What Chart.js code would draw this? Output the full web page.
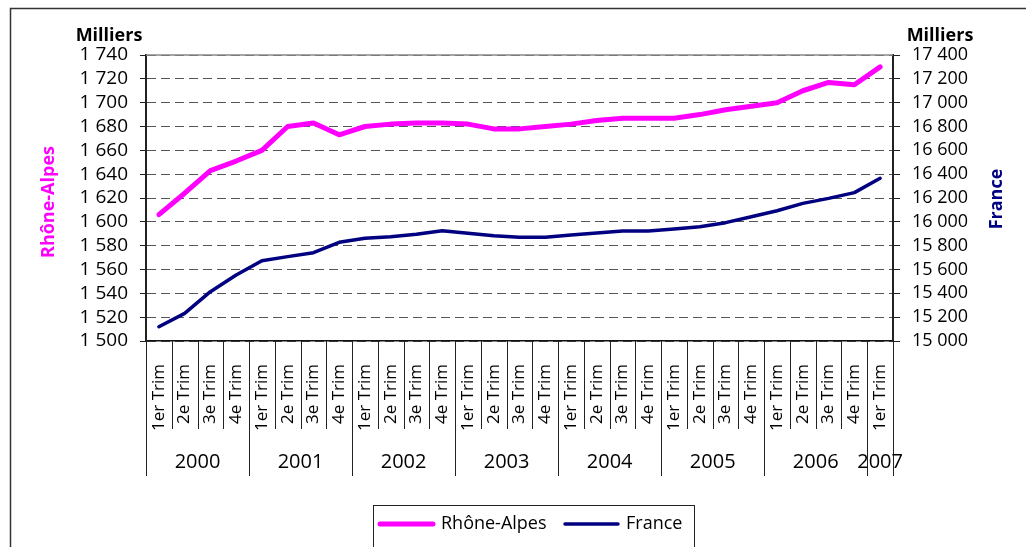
<!DOCTYPE html>
<html>
<head>
<meta charset="utf-8">
<script src="https://cdn.jsdelivr.net/npm/chart.js@4.4.1/dist/chart.umd.min.js"></script>
<style>
  html, body { margin: 0; padding: 0; background: #fff; }
</style>
</head>
<body>
<canvas id="chart" width="1026" height="547"></canvas>
<script>
// categories
const quarterLabels = [
  '1er Trim', '2e Trim', '3e Trim', '4e Trim',
  '1er Trim', '2e Trim', '3e Trim', '4e Trim',
  '1er Trim', '2e Trim', '3e Trim', '4e Trim',
  '1er Trim', '2e Trim', '3e Trim', '4e Trim',
  '1er Trim', '2e Trim', '3e Trim', '4e Trim',
  '1er Trim', '2e Trim', '3e Trim', '4e Trim',
  '1er Trim', '2e Trim', '3e Trim', '4e Trim',
  '1er Trim'
];
const yearLabels = ['2000', '2001', '2002', '2003', '2004', '2005', '2006', '2007'];
const quartersPerYear = [4, 4, 4, 4, 4, 4, 4, 1];

// series (milliers)
const rhoneAlpes = [
  1606, 1624, 1643, 1651, 1660, 1680, 1683, 1673,
  1680, 1682, 1683, 1683, 1682, 1678, 1678, 1680,
  1682, 1685, 1687, 1687, 1687, 1690, 1694, 1697,
  1700, 1710, 1717, 1715, 1730
];
const france = [
  15120, 15232, 15414, 15554, 15674, 15708, 15741, 15828,
  15862, 15875, 15895, 15925, 15904, 15884, 15870, 15870,
  15890, 15906, 15923, 15923, 15940, 15959, 15993, 16043,
  16093, 16155, 16197, 16245, 16365
];

// axes
const leftMin = 1500, leftMax = 1740, leftStep = 20;
const rightMin = 15000, rightMax = 17400, rightStep = 200;

const FONT = "'Open Sans', 'DejaVu Sans', sans-serif";
const PINK = '#FF00FF';
const NAVY = '#000080';

function spaced(v) {
  return String(v).replace(/\B(?=(\d{3})+(?!\d))/g, ' ');
}

const decor = {
  id: 'decor',
  beforeDraw(chart) {
    const ctx = chart.ctx;
    ctx.save();
    ctx.fillStyle = '#fff';
    ctx.fillRect(0, 0, chart.width, chart.height);
    ctx.restore();
  },
  afterDraw(chart) {
    const { ctx, chartArea: a, scales } = chart;
    const x = scales.x;
    ctx.save();

    // outer frame
    ctx.strokeStyle = '#333';
    ctx.lineWidth = 1.5;
    ctx.strokeRect(10.5, 8.5, 1040, 600);

    // top border of the plot
    ctx.strokeStyle = '#888';
    ctx.lineWidth = 1.5;
    ctx.beginPath();
    ctx.moveTo(a.left, a.top);
    ctx.lineTo(a.right, a.top);
    ctx.stroke();

    // category separators under the axis
    const n = quarterLabels.length;
    const bound = i => {
      if (i === 0) return a.left;
      if (i === n) return a.right;
      return (x.getPixelForValue(i - 1) + x.getPixelForValue(i)) / 2;
    };
    const yearStarts = [];
    let k = 0;
    quartersPerYear.forEach(q => { yearStarts.push(k); k += q; });
    yearStarts.push(n);

    ctx.strokeStyle = '#222';
    ctx.lineWidth = 1;
    for (let i = 0; i <= n; i++) {
      const bx = Math.round(bound(i)) + 0.5;
      const isYear = yearStarts.includes(i);
      ctx.beginPath();
      ctx.moveTo(bx, a.bottom);
      ctx.lineTo(bx, isYear ? 476 : 429);
      ctx.stroke();
    }

    // year labels
    ctx.fillStyle = '#000';
    ctx.font = '20px ' + FONT;
    ctx.textAlign = 'center';
    ctx.textBaseline = 'middle';
    yearLabels.forEach((yl, j) => {
      const cx = (bound(yearStarts[j]) + bound(yearStarts[j + 1])) / 2;
      ctx.fillText(yl, cx, 462);
    });

    // units
    ctx.font = 'bold 18px ' + FONT;
    ctx.fillText('Milliers', 109, 36);
    ctx.fillText('Milliers', 940, 36);

    // axis titles
    ctx.font = 'bold 18px ' + FONT;
    ctx.save();
    ctx.translate(49, 202);
    ctx.rotate(-Math.PI / 2);
    ctx.fillStyle = PINK;
    ctx.fillText('Rhône-Alpes', 0, 0);
    ctx.restore();
    ctx.save();
    ctx.translate(997, 199);
    ctx.rotate(-Math.PI / 2);
    ctx.fillStyle = NAVY;
    ctx.fillText('France', 0, 0);
    ctx.restore();

    // legend
    ctx.strokeStyle = '#222';
    ctx.lineWidth = 1;
    ctx.strokeRect(373.5, 505.5, 321, 60);
    ctx.lineCap = 'round';
    ctx.font = '18px ' + FONT;
    ctx.textAlign = 'left';
    ctx.fillStyle = '#000';
    const legendPos = [378, 563];
    chart.data.datasets.forEach((ds, i) => {
      const lx = legendPos[i];
      ctx.strokeStyle = ds.borderColor;
      ctx.lineWidth = ds.borderWidth;
      ctx.beginPath();
      ctx.moveTo(lx + 2, 524);
      ctx.lineTo(lx + 55, 524);
      ctx.stroke();
      ctx.fillText(ds.label, lx + 63, 524);
    });

    ctx.restore();
  }
};

new Chart(document.getElementById('chart'), {
  type: 'line',
  data: {
    labels: quarterLabels,
    datasets: [
      {
        label: 'Rhône-Alpes',
        data: rhoneAlpes,
        yAxisID: 'y',
        borderColor: PINK,
        borderWidth: 5,
        borderCapStyle: 'round',
        borderJoinStyle: 'round',
        pointRadius: 0,
        tension: 0
      },
      {
        label: 'France',
        data: france,
        yAxisID: 'y2',
        borderColor: NAVY,
        borderWidth: 3.5,
        borderCapStyle: 'round',
        borderJoinStyle: 'round',
        pointRadius: 0,
        tension: 0
      }
    ]
  },
  options: {
    responsive: false,
    animation: false,
    events: [],
    layout: { padding: { top: 55, left: 0, right: 0, bottom: 0 } },
    plugins: {
      legend: { display: false },
      title: { display: false },
      tooltip: { enabled: false }
    },
    scales: {
      x: {
        type: 'category',
        offset: true,
        grid: { display: false },
        border: { display: true, color: '#111', width: 1.5 },
        ticks: {
          autoSkip: false,
          maxRotation: 90,
          minRotation: 90,
          padding: 15,
          color: '#000',
          font: { family: FONT, size: 17 }
        },
        afterFit(scale) { scale.height = 206; }
      },
      y: {
        position: 'left',
        min: leftMin,
        max: leftMax,
        border: { display: true, color: '#222', width: 2, dash: [9, 5] },
        grid: {
          color: '#555',
          lineWidth: 1,
          tickLength: 6,
          tickColor: '#222',
          tickBorderDash: []
        },
        ticks: {
          stepSize: leftStep,
          autoSkip: false,
          padding: 12,
          color: '#000',
          font: { family: FONT, size: 19 },
          callback: v => spaced(v)
        },
        afterFit(scale) { scale.width = 146; }
      },
      y2: {
        position: 'right',
        min: rightMin,
        max: rightMax,
        border: { display: true, color: '#222', width: 2 },
        grid: {
          drawOnChartArea: false,
          tickLength: 7,
          tickColor: '#222'
        },
        ticks: {
          stepSize: rightStep,
          autoSkip: false,
          padding: 12,
          color: '#000',
          font: { family: FONT, size: 18 },
          callback: v => spaced(v)
        },
        afterFit(scale) { scale.width = 133; }
      }
    }
  },
  plugins: [decor]
});
</script>
</body>
</html>
